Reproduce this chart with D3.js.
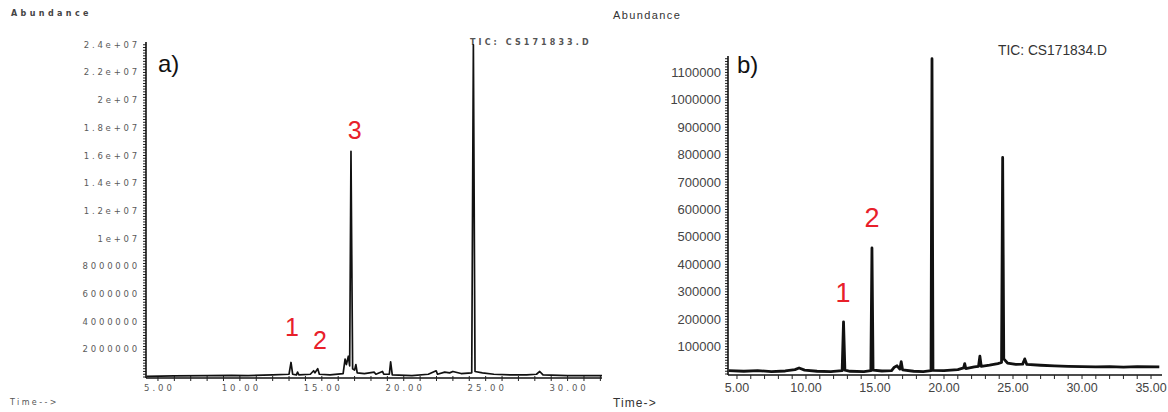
<!DOCTYPE html>
<html>
<head>
<meta charset="utf-8">
<script src="https://cdn.jsdelivr.net/npm/d3@7"></script>
<style>
  body { margin: 0; background: #fff; }
  svg { display: block; }
</style>
</head>
<body>
<div id="chart"></div>
<script>
// panel a) trace: time (min) / abundance
var timeA = [4.3, 6, 8, 9.5, 10.5, 12, 13.0, 13.12, 13.22, 13.45, 13.52, 13.6, 14.3, 14.5, 14.58, 14.75, 14.85,
  15.5, 16.3, 16.42, 16.5, 16.62, 16.7, 16.78, 16.88, 17.0, 17.08, 17.16, 17.6, 18.2, 18.3, 18.7, 18.78,
  19.12, 19.2, 19.3, 20.5, 21.5, 21.98, 22.06, 22.5, 22.8, 23.0, 23.5, 24.15, 24.25, 24.35, 24.8, 25.5,
  26.5, 27.5, 28.1, 28.3, 28.5, 30, 32.1];
var abundA = [0.05e6, 0.08e6, 0.1e6, 0.12e6, 0.1e6, 0.15e6, 0.2e6, 1.05e6, 0.2e6, 0.15e6, 0.35e6, 0.15e6, 0.2e6, 0.45e6, 0.3e6, 0.6e6, 0.2e6,
  0.15e6, 0.25e6, 1.3e6, 0.9e6, 1.5e6, 0.8e6, 16.3e6, 0.6e6, 0.5e6, 0.9e6, 0.3e6, 0.25e6, 0.35e6, 0.2e6, 0.4e6, 0.2e6,
  0.2e6, 1.1e6, 0.15e6, 0.1e6, 0.2e6, 0.45e6, 0.2e6, 0.35e6, 0.3e6, 0.4e6, 0.25e6, 0.3e6, 24.0e6, 0.4e6, 0.3e6, 0.2e6,
  0.15e6, 0.15e6, 0.2e6, 0.4e6, 0.15e6, 0.1e6, 0.1e6];

// panel b) trace
var timeB = [4.4, 5.5, 6.5, 7.5, 8.5, 9.2, 9.5, 9.9, 10.8, 11.8, 12.62, 12.72, 12.82, 13.2, 14.2, 14.7, 14.78, 14.86,
  15.5, 16.2, 16.4, 16.6, 16.8, 16.9, 17.0, 17.8, 18.5, 19.06, 19.13, 19.2, 20.0, 21.0, 21.42, 21.5, 21.58,
  22.2, 22.5, 22.6, 22.7, 23.3, 23.9, 24.17, 24.25, 24.33, 24.6, 25.2, 25.7, 25.85, 26.0, 27, 28, 29, 30, 31,
  32, 33, 34, 35.6];
var abundB = [12000, 10000, 12000, 9000, 11000, 16000, 22000, 14000, 10000, 9000, 12000, 190000, 14000, 10000, 9000, 12000, 460000, 14000,
  11000, 12000, 25000, 30000, 18000, 45000, 15000, 10000, 9000, 12000, 1150000, 13000, 12000, 16000, 22000, 38000, 20000,
  26000, 28000, 65000, 28000, 32000, 38000, 42000, 790000, 55000, 40000, 35000, 36000, 55000, 35000, 32000, 30000, 28000, 27000, 26000,
  27000, 25000, 27000, 26000];

// tick values / labels
var xTicksA = [5, 10, 15, 20, 25, 30];
var xTicksB = [5, 10, 15, 20, 25, 30, 35];
var yTicksA = [2e6, 4e6, 6e6, 8e6, 10e6, 12e6, 14e6, 16e6, 18e6, 20e6, 22e6, 24e6];
var yLabelsA = ["2000000", "4000000", "6000000", "8000000", "1e+07", "1.2e+07", "1.4e+07", "1.6e+07", "1.8e+07", "2e+07", "2.2e+07", "2.4e+07"];
var yTicksB = [100000, 200000, 300000, 400000, 500000, 600000, 700000, 800000, 900000, 1000000, 1100000];

// peak annotations
var peakLabelsA = ["1", "2", "3"];
var peakTimesA = [13.17, 14.88, 17.0];
var peakLevelA = [2.96e6, 2.0e6, 17.2e6];
var peakLabelsB = ["1", "2"];
var peakTimesB = [12.68, 14.78];
var peakLevelB = [262000, 535000];

var W = 1168, H = 412;
var svg = d3.select("#chart").append("svg").attr("width", W).attr("height", H);

// ---------- panel a ----------
var xA = d3.scaleLinear().domain([4.27, 32.1]).range([146, 602]);
var yA = d3.scaleLinear().domain([0, 2.42e7]).range([377, 42]);
var gA = svg.append("g");

var smallFont = "'DejaVu Sans', sans-serif";

gA.append("text").attr("x", 11).attr("y", 16).text("Abundance")
  .style("font-family", smallFont).style("font-size", "8px").style("font-weight", "bold").style("letter-spacing", "3.4px").style("fill", "#444");
gA.append("text").attr("x", 10).attr("y", 405).text("Time-->")
  .style("font-family", smallFont).style("font-size", "8px").style("letter-spacing", "2.4px").style("fill", "#555");
gA.append("text").attr("x", 470).attr("y", 45).text("TIC: CS171833.D")
  .style("font-family", smallFont).style("font-size", "8px").style("font-weight", "bold").style("letter-spacing", "3.1px").style("fill", "#555");
gA.append("text").attr("x", 158).attr("y", 72).text("a)")
  .style("font-family", "'Liberation Sans', Arial, sans-serif").style("font-size", "24px").style("fill", "#111");

// y minor ticks
gA.selectAll("line.yminA").data(d3.range(0, 2.42e7, 2e5)).enter().append("line")
  .attr("x1", 143).attr("x2", 146)
  .attr("y1", function (d) { return yA(d); }).attr("y2", function (d) { return yA(d); })
  .style("stroke", "#222").style("stroke-width", 1);
gA.append("line").attr("x1", 146).attr("x2", 146).attr("y1", yA(2.42e7)).attr("y2", 378)
  .style("stroke", "#111").style("stroke-width", 1.6);
gA.selectAll("text.ylabA").data(yTicksA).enter().append("text")
  .attr("x", 140).attr("y", function (d) { return yA(d) + 3; })
  .attr("text-anchor", "end")
  .text(function (d, i) { return yLabelsA[i]; })
  .style("font-family", smallFont).style("font-size", "8.5px").style("letter-spacing", "2.8px").style("fill", "#5a5a5a");

// x axis
gA.append("line").attr("x1", 146).attr("x2", 602).attr("y1", 378).attr("y2", 378)
  .style("stroke", "#111").style("stroke-width", 1.6);
gA.selectAll("line.xminA").data(d3.range(5, 32.1, 1)).enter().append("line")
  .attr("x1", function (d) { return xA(d); }).attr("x2", function (d) { return xA(d); })
  .attr("y1", 376).attr("y2", 381)
  .style("stroke", "#222").style("stroke-width", 1);
gA.selectAll("text.xlabA").data(xTicksA).enter().append("text")
  .attr("x", function (d) { return xA(d) + 1.5; }).attr("y", 391)
  .attr("text-anchor", "middle")
  .text(function (d) { return d3.format(".2f")(d); })
  .style("font-family", smallFont).style("font-size", "8.5px").style("letter-spacing", "3px").style("fill", "#5a5a5a");

var lineA = d3.line().x(function (d) { return xA(d[0]); }).y(function (d) { return yA(d[1]); });
gA.append("path").datum(d3.zip(timeA, abundA)).attr("d", lineA)
  .style("fill", "none").style("stroke", "#111").style("stroke-width", 1.7).style("stroke-linejoin", "round");

gA.selectAll("text.peakA").data(peakLabelsA).enter().append("text")
  .attr("x", function (d, i) { return xA(peakTimesA[i]); })
  .attr("y", function (d, i) { return yA(peakLevelA[i]); })
  .attr("text-anchor", "middle").text(function (d) { return d; })
  .style("font-family", "'Liberation Sans', Arial, sans-serif").style("font-size", "25px").style("fill", "#e8202a");

// ---------- panel b ----------
var xB = d3.scaleLinear().domain([4.35, 35.65]).range([728, 1160]);
var yB = d3.scaleLinear().domain([0, 1.16e6]).range([374, 56]);
var gB = svg.append("g");
var armFont = "'Liberation Sans', Arial, sans-serif";

gB.append("text").attr("x", 613).attr("y", 19).text("Abundance")
  .style("font-family", armFont).style("font-size", "11px").style("letter-spacing", "1.4px").style("fill", "#333");
gB.append("text").attr("x", 613).attr("y", 407).text("Time->")
  .style("font-family", armFont).style("font-size", "12px").style("letter-spacing", "1.1px").style("fill", "#333");
gB.append("text").attr("x", 998).attr("y", 55).text("TIC: CS171834.D")
  .style("font-family", armFont).style("font-size", "13.8px").style("fill", "#333");
gB.append("text").attr("x", 737).attr("y", 73).text("b)")
  .style("font-family", armFont).style("font-size", "24px").style("fill", "#111");

gB.selectAll("line.yminB").data(d3.range(0, 1.16e6, 10000)).enter().append("line")
  .attr("x1", 725).attr("x2", 728)
  .attr("y1", function (d) { return yB(d); }).attr("y2", function (d) { return yB(d); })
  .style("stroke", "#222").style("stroke-width", 1);
gB.append("line").attr("x1", 728).attr("x2", 728).attr("y1", yB(1.16e6)).attr("y2", 375)
  .style("stroke", "#111").style("stroke-width", 1.6);
gB.selectAll("text.ylabB").data(yTicksB).enter().append("text")
  .attr("x", 721).attr("y", function (d) { return yB(d) + 4.5; })
  .attr("text-anchor", "end")
  .text(function (d) { return d; })
  .style("font-family", armFont).style("font-size", "13px").style("fill", "#444");

gB.append("line").attr("x1", 728).attr("x2", 1162).attr("y1", 375).attr("y2", 375)
  .style("stroke", "#111").style("stroke-width", 1.4);
gB.selectAll("line.xminB").data(d3.range(5, 35.7, 1)).enter().append("line")
  .attr("x1", function (d) { return xB(d); }).attr("x2", function (d) { return xB(d); })
  .attr("y1", 375).attr("y2", 379)
  .style("stroke", "#222").style("stroke-width", 1);
gB.selectAll("text.xlabB").data(xTicksB).enter().append("text")
  .attr("x", function (d) { return xB(d); }).attr("y", 392)
  .attr("text-anchor", "middle")
  .text(function (d) { return d3.format(".2f")(d); })
  .style("font-family", armFont).style("font-size", "12.5px").style("fill", "#444");

var lineB = d3.line().x(function (d) { return xB(d[0]); }).y(function (d) { return yB(d[1]); });
gB.append("path").datum(d3.zip(timeB, abundB)).attr("d", lineB)
  .style("fill", "none").style("stroke", "#111").style("stroke-width", 2.8).style("stroke-linejoin", "round");

gB.selectAll("text.peakB").data(peakLabelsB).enter().append("text")
  .attr("x", function (d, i) { return xB(peakTimesB[i]); })
  .attr("y", function (d, i) { return yB(peakLevelB[i]); })
  .attr("text-anchor", "middle").text(function (d) { return d; })
  .style("font-family", armFont).style("font-size", "27px").style("fill", "#e8202a");
</script>
</body>
</html>
